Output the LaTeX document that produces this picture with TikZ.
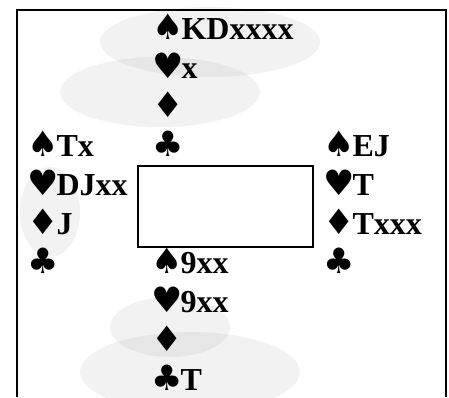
\documentclass[tikz,border=0pt]{standalone}
\usepackage{fontspec}
\setmainfont{Liberation Serif}
\newfontfamily\suitfont{DejaVu Sans}
\usetikzlibrary{positioning}
\newcommand\suitsize{\fontsize{35}{34}\selectfont}
\newcommand\SuitS{{\suitfont\suitsize\char"2660}\kern-2pt}
\newcommand\SuitH{{\suitfont\suitsize\char"2665}\kern-2pt}
\newcommand\SuitD{{\suitfont\suitsize\char"2666}\kern-2pt}
\newcommand\SuitC{{\suitfont\suitsize\char"2663}\kern-2pt}

\begin{document}
\begin{tikzpicture}[
        x=1pt, y=1pt,
        node distance=38.9pt,
        hand/.style={anchor=base west, inner sep=0pt, font=\bfseries\fontsize{32}{34}\selectfont},
        table/.style={draw, line width=2.8pt},
        frame/.style={line width=2pt},
        dither/.style={fill=black, opacity=0.05}
    ]
        \useasboundingbox (0,0) rectangle (449,397);

        % Shading
        \fill[dither] (210,355) ellipse (110 and 35);
        \fill[dither] (160,305) ellipse (100 and 35);
        \fill[dither] (190,25) ellipse (110 and 40);
        \fill[dither] (170,70) ellipse (60 and 30);
        \fill[dither] (50,185) ellipse (30 and 45);

        % Frame
        \draw[frame] (17,0) -- (17,387) -- (446,387) -- (446,0);

        % North
        \node[hand] (n1) at (152,357) {\SuitS KDxxxx};
        \node[hand, below=of n1.base west, anchor=base west] (n2) {\SuitH x};
        \node[hand, below=of n2.base west, anchor=base west] (n3) {\SuitD};
        \node[hand, below=of n3.base west, anchor=base west] (n4) {\SuitC};

        % West
        \node[hand] (w1) at (27,240.3) {\SuitS Tx};
        \node[hand, below=of w1.base west, anchor=base west] (w2) {\SuitH DJxx};
        \node[hand, below=of w2.base west, anchor=base west] (w3) {\SuitD J};
        \node[hand, below=of w3.base west, anchor=base west] (w4) {\SuitC};

        % East
        \node[hand] (e1) at (323,240.3) {\SuitS EJ};
        \node[hand, below=of e1.base west, anchor=base west] (e2) {\SuitH T};
        \node[hand, below=of e2.base west, anchor=base west] (e3) {\SuitD Txxx};
        \node[hand, below=of e3.base west, anchor=base west] (e4) {\SuitC};

        % South
        \node[hand] (s1) at (151,123.6) {\SuitS 9xx};
        \node[hand, below=of s1.base west, anchor=base west] (s2) {\SuitH 9xx};
        \node[hand, below=of s2.base west, anchor=base west] (s3) {\SuitD};
        \node[hand, below=of s3.base west, anchor=base west] (s4) {\SuitC T};

        % Table
        \draw[table] (138,150) rectangle (313,231);
    \end{tikzpicture}
\end{document}
